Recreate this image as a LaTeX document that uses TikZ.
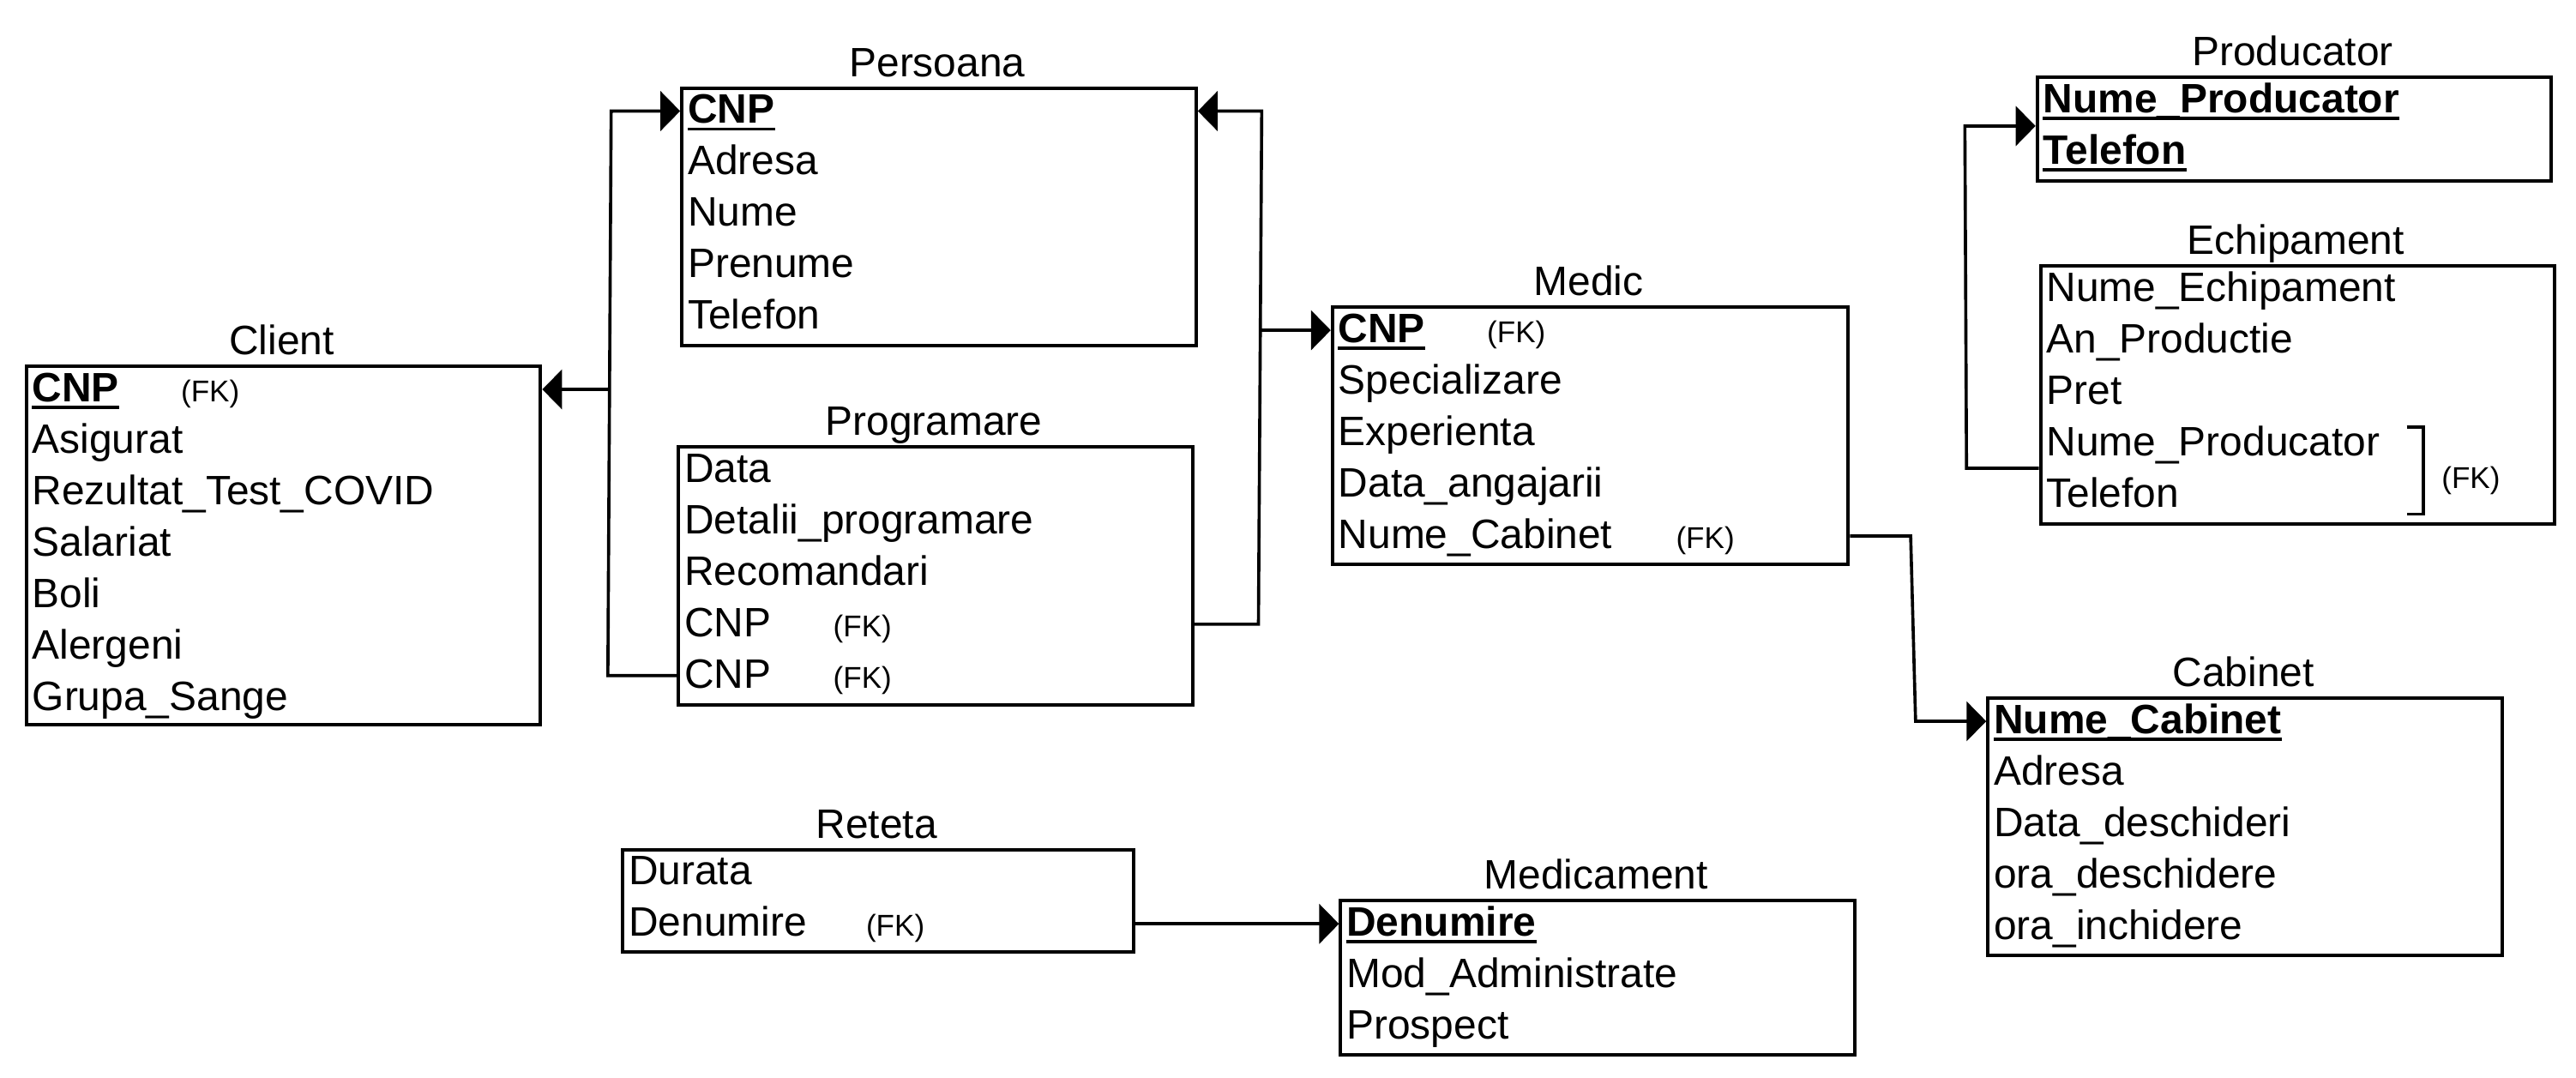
\documentclass[tikz,border=0pt]{standalone}
\usepackage{fontspec}
\setmainfont{Liberation Sans}
\usetikzlibrary{arrows.meta,calc}
\tikzset{
 tbl/.style={draw, line width=2.1pt, rectangle, inner sep=0pt, minimum width=313pt, anchor=north west},
 fld/.style={font=\fontsize{25pt}{29pt}\selectfont, anchor=base west, inner sep=0pt},
 keyfld/.style={font=\fontsize{25pt}{29pt}\selectfont\bfseries, anchor=base west, inner sep=0pt},
 fk/.style={font=\fontsize{18.3pt}{21pt}\selectfont, anchor=base west, inner sep=0pt},
 ttl/.style={font=\fontsize{25pt}{29pt}\selectfont, anchor=base, inner sep=0pt},
 conn/.style={line width=1.9pt},
 arr/.style={-{Triangle[length=12pt,width=24pt]}},
 uline/.style={line width=1.8pt},
}
\newcommand{\keyline}[1]{\draw[uline] ($(#1.base west)+(0,3.5)$) -- ($(#1.base east)+(0,3.5)$);}
\begin{document}
\begin{tikzpicture}[x=1pt,y=-1pt]
\useasboundingbox (0,0) rectangle (1568,655.6);

% Client
\node[tbl, minimum height=218pt] (client) at (15,222) {};
\node[ttl] (client-t) at (171.5,216) {Client};
\node[keyfld] (client-1) at (19.5,244.5) {CNP};
\node[fk] (client-fk) at (110,244.5) {(FK)};
\node[fld] (client-2) at (19.5,275.8) {Asigurat};
\node[fld] (client-3) at (19.5,307.1) {Rezultat\_Test\_COVID};
\node[fld] (client-4) at (19.5,338.4) {Salariat};
\node[fld] (client-5) at (19.5,369.7) {Boli};
\node[fld] (client-6) at (19.5,401.0) {Alergeni};
\node[fld] (client-7) at (19.5,432.3) {Grupa\_Sange};
\keyline{client-1}

% Persoana
\node[tbl, minimum height=156.5pt] (pers) at (414,52.6) {};
\node[ttl] (pers-t) at (570.5,46.6) {Persoana};
\node[keyfld] (pers-1) at (418.5,75.1) {CNP};
\node[fld] (pers-2) at (418.5,106.4) {Adresa};
\node[fld] (pers-3) at (418.5,137.7) {Nume};
\node[fld] (pers-4) at (418.5,169.0) {Prenume};
\node[fld] (pers-5) at (418.5,200.3) {Telefon};
\keyline{pers-1}

% Programare
\node[tbl, minimum height=157pt] (prog) at (412,271) {};
\node[ttl] (prog-t) at (568.5,265) {Programare};
\node[fld] (prog-1) at (416.5,293.5) {Data};
\node[fld] (prog-2) at (416.5,324.8) {Detalii\_programare};
\node[fld] (prog-3) at (416.5,356.1) {Recomandari};
\node[fld] (prog-4) at (416.5,387.4) {CNP};
\node[fk] (prog-fk4) at (507,387.4) {(FK)};
\node[fld] (prog-5) at (416.5,418.7) {CNP};
\node[fk] (prog-fk5) at (507,418.7) {(FK)};

% Medic
\node[tbl, minimum width=314pt, minimum height=156.5pt] (medic) at (810,186) {};
\node[ttl] (medic-t) at (967,180) {Medic};
\node[keyfld] (medic-1) at (814.5,208.5) {CNP};
\node[fk] (medic-fk1) at (905,208.5) {(FK)};
\node[fld] (medic-2) at (814.5,239.8) {Specializare};
\node[fld] (medic-3) at (814.5,271.1) {Experienta};
\node[fld] (medic-4) at (814.5,302.4) {Data\_angajarii};
\node[fld] (medic-5) at (814.5,333.7) {Nume\_Cabinet};
\node[fk] (medic-fk5) at (1020,333.7) {(FK)};
\keyline{medic-1}

% Producator
\node[tbl, minimum height=63pt] (prod) at (1239,46) {};
\node[ttl] (prod-t) at (1395.5,40) {Producator};
\node[keyfld] (prod-1) at (1243.5,68.5) {Nume\_Producator};
\node[keyfld] (prod-2) at (1243.5,99.8) {Telefon};
\keyline{prod-1}
\keyline{prod-2}

% Echipament
\node[tbl, minimum height=157pt] (echip) at (1241,161) {};
\node[ttl] (echip-t) at (1397.5,155) {Echipament};
\node[fld] (echip-1) at (1245.5,183.5) {Nume\_Echipament};
\node[fld] (echip-2) at (1245.5,214.8) {An\_Productie};
\node[fld] (echip-3) at (1245.5,246.1) {Pret};
\node[fld] (echip-4) at (1245.5,277.4) {Nume\_Producator};
\node[fld] (echip-5) at (1245.5,308.7) {Telefon};
\coordinate (br-a) at (1465,260);
\coordinate (br-b) at (1475,260);
\coordinate (br-c) at (1475,313);
\coordinate (br-d) at (1465,313);
\draw[conn] (br-a) -- (br-b) -- (br-c) -- (br-d);
\node[fk] (echip-fk) at (1486,297.5) {(FK)};

% Cabinet
\node[tbl, minimum height=156.5pt] (cab) at (1209,424) {};
\node[ttl] (cab-t) at (1365.5,418) {Cabinet};
\node[keyfld] (cab-1) at (1213.5,446.5) {Nume\_Cabinet};
\node[fld] (cab-2) at (1213.5,477.8) {Adresa};
\node[fld] (cab-3) at (1213.5,509.1) {Data\_deschideri};
\node[fld] (cab-4) at (1213.5,540.4) {ora\_deschidere};
\node[fld] (cab-5) at (1213.5,571.7) {ora\_inchidere};
\keyline{cab-1}

% Reteta
\node[tbl, minimum width=311pt, minimum height=62.5pt] (ret) at (378,516) {};
\node[ttl] (ret-t) at (533.5,510) {Reteta};
\node[fld] (ret-1) at (382.5,538.5) {Durata};
\node[fld] (ret-2) at (382.5,569.8) {Denumire};
\node[fk] (ret-fk) at (527,569.8) {(FK)};

% Medicament
\node[tbl, minimum height=94pt] (medt) at (815,547) {};
\node[ttl] (medt-t) at (971.5,541) {Medicament};
\node[keyfld] (medt-1) at (819.5,569.5) {Denumire};
\node[fld] (medt-2) at (819.5,600.8) {Mod\_Administrate};
\node[fld] (medt-3) at (819.5,632.1) {Prospect};
\keyline{medt-1}

% connector anchor points
\coordinate (j1b) at (370,411.2);
\coordinate (j1m) at (371,237);
\coordinate (j1t) at (372,67.6);
\coordinate (j2b) at (766,379.9);
\coordinate (j2m) at (767.6,201);
\coordinate (j2t) at (768,67.6);
\coordinate (j3a) at (1163,326.2);
\coordinate (j3b) at (1166,439);
\coordinate (j4a) at (1197,285);
\coordinate (j4b) at (1196,76.7);
\coordinate (j5) at (700,562.3);

% connectors
\draw[conn, arr] (prog.west |- j1b) -- (j1b) -- (j1t) -- (pers.west |- j1t);
\draw[conn, arr] (j1m) -- (client.east |- j1m);
\draw[conn, arr] (prog.east |- j2b) -- (j2b) -- (j2t) -- (pers.east |- j2t);
\draw[conn, arr] (j2m) -- (medic.west |- j2m);
\draw[conn, arr] (medic.east |- j3a) -- (j3a) -- (j3b) -- (cab.west |- j3b);
\draw[conn, arr] (echip.west |- j4a) -- (j4a) -- (j4b) -- (prod.west |- j4b);
\draw[conn, arr] (ret.east |- j5) -- (medt.west |- j5);
\end{tikzpicture}
\end{document}
